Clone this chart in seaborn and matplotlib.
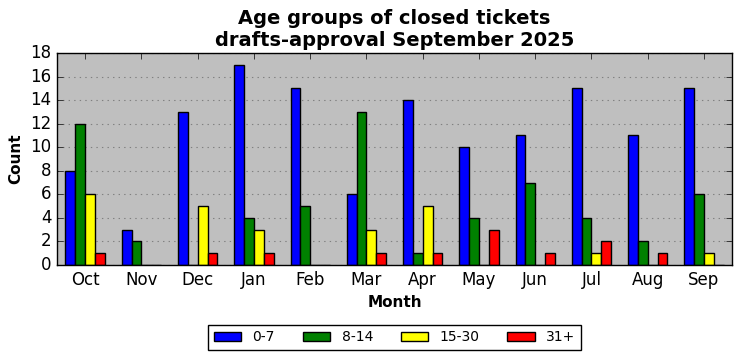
import numpy as np
import pandas as pd
import matplotlib
matplotlib.use("Agg")
import matplotlib.pyplot as plt
import seaborn as sns
from matplotlib.patches import Patch

months = ['Oct', 'Nov', 'Dec', 'Jan', 'Feb', 'Mar', 'Apr', 'May', 'Jun', 'Jul', 'Aug', 'Sep']
groups = ['0-7', '8-14', '15-30', '31+']
age_0_7 = [8, 3, 13, 17, 15, 6, 14, 10, 11, 15, 11, 15]
age_8_14 = [12, 2, 0, 4, 5, 13, 1, 4, 7, 4, 2, 6]
age_15_30 = [6, 0, 5, 3, 0, 3, 5, 0, 0, 1, 0, 1]
age_31 = [1, 0, 1, 1, 0, 1, 1, 3, 1, 2, 1, 0]
colors = ['blue', 'green', 'yellow', 'red']

df = pd.DataFrame({'Month': months * 4,
                   'Group': [g for g in groups for _ in months],
                   'Count': age_0_7 + age_8_14 + age_15_30 + age_31})

plt.style.use('classic')
plt.rcParams['figure.facecolor'] = 'white'
plt.rcParams['font.family'] = ['DejaVu Sans']

fig = plt.figure(figsize=(7.41, 3.61), dpi=100)
ax = fig.add_axes([0.077, 0.266, 0.911, 0.587])
ax.set_facecolor('#bfbfbf')

sns.barplot(data=df, x='Month', y='Count', hue='Group', order=months, hue_order=groups,
            palette=colors, edgecolor='black', linewidth=1, width=0.7, gap=0,
            saturation=1, ax=ax, legend=False)

ax.set_xlim(-0.5, 11.5)
ax.set_ylim(0, 18)
ax.set_yticks(range(0, 19, 2))
ax.yaxis.grid(True, linestyle=':', color='gray', linewidth=0.8)
ax.set_axisbelow(True)
ax.set_xlabel('Month', fontweight='bold', fontsize=11)
ax.set_ylabel('Count', fontweight='bold', fontsize=11)
ax.set_title('Age groups of closed tickets\ndrafts-approval September 2025',
             fontweight='bold', fontsize=14)
ax.tick_params(labelsize=12)

handles = [Patch(facecolor=c, edgecolor='black', label=g) for c, g in zip(colors, groups)]
leg = ax.legend(handles=handles, loc='upper center', bbox_to_anchor=(0.5, -0.25),
                ncol=4, fontsize=10, fancybox=False, frameon=True,
                handlelength=2.0, columnspacing=2.0)
leg.get_frame().set_edgecolor('black')

fig.savefig('out.png', dpi=100)
